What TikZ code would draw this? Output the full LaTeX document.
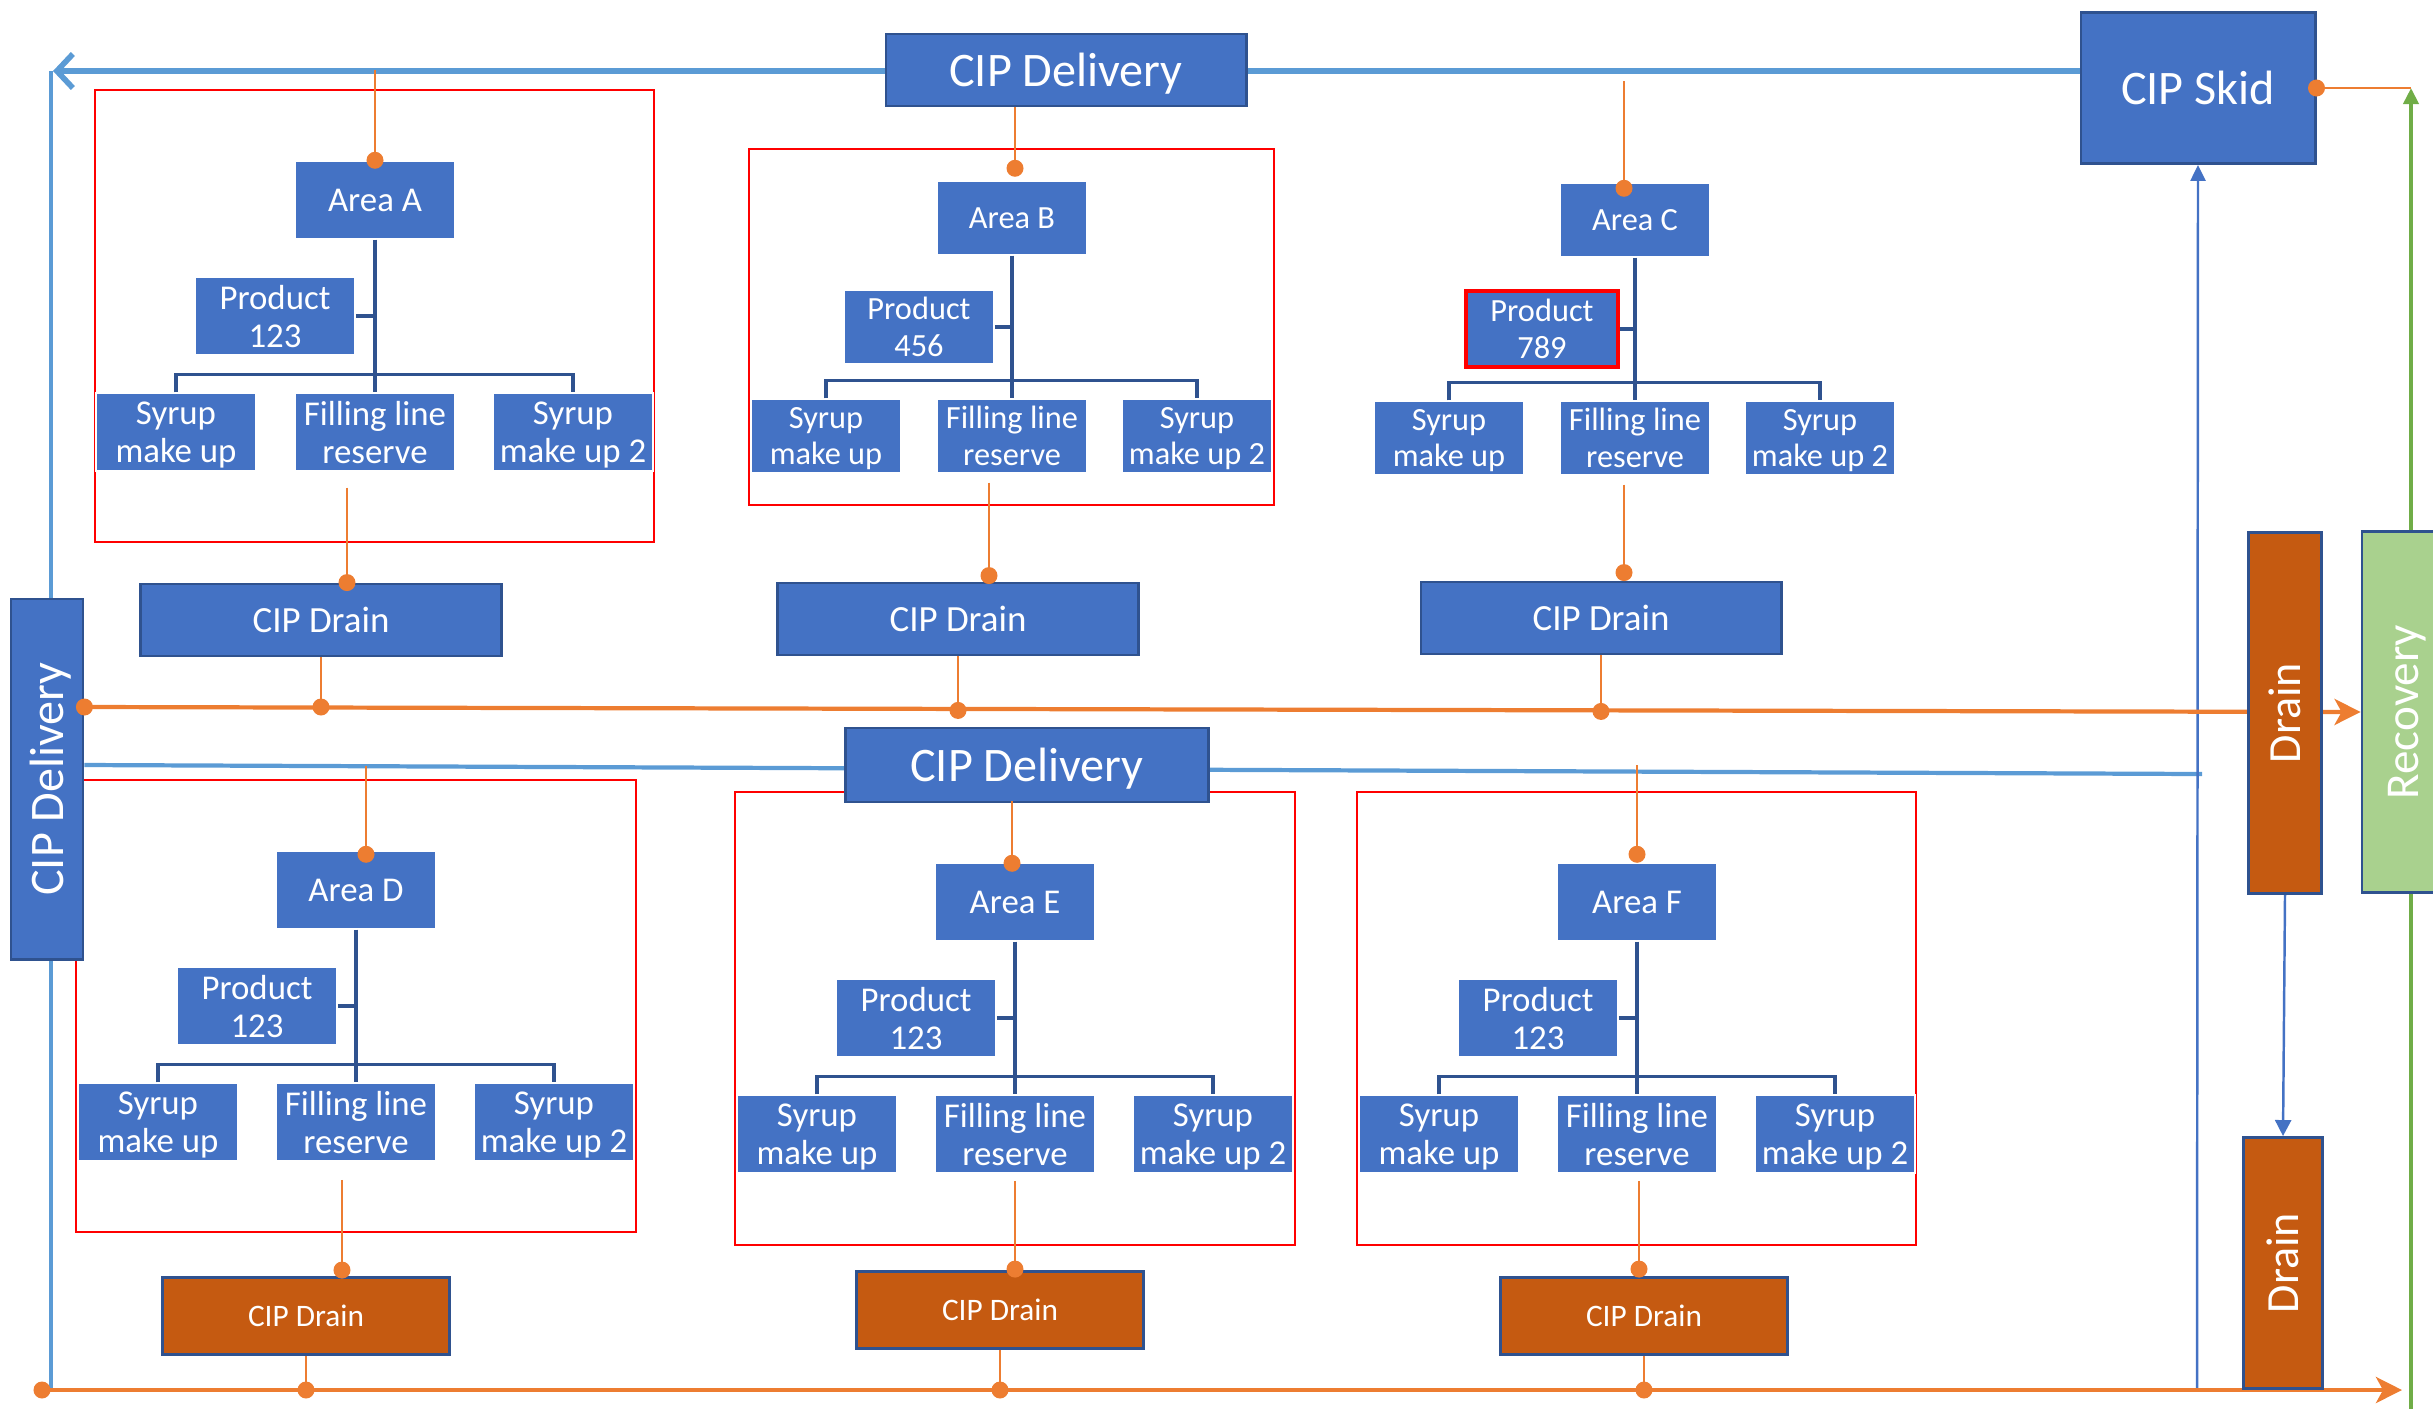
\documentclass[tikz,border=0pt]{standalone}
\usepackage{fontspec}
\setmainfont{Carlito}
\usetikzlibrary{arrows.meta,calc}
\pgfdeclarelayer{bg}
\pgfsetlayers{bg,main}
\definecolor{bx}{HTML}{4472C4}
\definecolor{bxd}{HTML}{2F528F}
\definecolor{orl}{HTML}{ED7D31}
\definecolor{lbl}{HTML}{5B9BD5}
\definecolor{drn}{HTML}{C55A11}
\definecolor{grl}{HTML}{70AD47}
\definecolor{grf}{HTML}{A9D18E}
\newcommand\mytree[5]{%
  \draw[tline] (#1.south) -- (#4.north);
  \draw[tline] (#3.north) -- ++(0,-18) -| (#5.north);
  \draw[tline] (#2.east) -- (#2.east -| #1.south);
}
\begin{document}
\begin{tikzpicture}[x=0.01cm,y=-0.01cm,
  sb/.style={fill=bx, draw=white, line width=0.4pt, text=white, align=center, inner sep=0pt,
    text depth=0pt, minimum width=1.6cm, minimum height=0.78cm, font=\fontsize{9.9}{10.8}\selectfont},
  sbs/.style={sb, minimum width=1.5cm, minimum height=0.74cm, font=\fontsize{9.2}{10.4}\selectfont},
  big/.style={fill=bx, draw=bxd, line width=0.8pt, text=white, align=center, inner sep=0pt,
    text depth=0pt, font=\fontsize{13.7}{16}\selectfont},
  cipdr/.style={big, minimum width=3.61cm, minimum height=0.72cm, font=\fontsize{10.5}{12}\selectfont},
  cipdro/.style={big, fill=drn, minimum width=2.87cm, minimum height=0.77cm, font=\fontsize{8.9}{10}\selectfont},
  rbox/.style={draw=red, line width=0.6pt},
  tline/.style={draw=bxd, line width=0.9pt},
  oline/.style={draw=orl, line width=0.8pt},
  omain/.style={draw=orl, line width=1.2pt},
  odot/.style={circle, fill=orl, inner sep=0pt, minimum size=0.17cm},
  blue1/.style={draw=lbl, line width=1.7pt},
  blue2/.style={draw=lbl, line width=1.2pt},
  blue3/.style={draw=bx, line width=0.7pt}
]
\useasboundingbox (0,0) rectangle (2433,1408);

% red group frames
\draw[rbox] (95,90) rectangle (654,542);
\draw[rbox] (749,149) rectangle (1274,505);
\draw[rbox] (76,780) rectangle (636,1232);
\draw[rbox] (735,792) rectangle (1295,1245);
\draw[rbox] (1357,792) rectangle (1916,1245);

% main boxes
\node[big, minimum width=3.6cm, minimum height=0.72cm] (dtop) at (1066,70) {CIP Delivery};
\node[big, minimum width=2.34cm, minimum height=1.51cm] (skid) at (2198,88) {CIP Skid};
\node[big, minimum width=3.62cm, minimum height=0.74cm] (dmid) at (1027,765) {CIP Delivery};
\node[big, rotate=90, minimum width=3.6cm, minimum height=0.72cm] (dleft) at (47,779) {CIP Delivery};
\node[big, fill=drn, rotate=90, minimum width=3.61cm, minimum height=0.73cm, font=\fontsize{13.1}{15}\selectfont] (drain1) at (2285,713) {Drain};
\node[big, fill=grf, rotate=90, minimum width=3.61cm, minimum height=0.82cm, font=\fontsize{13.4}{15}\selectfont] (recov) at (2403,712) {Recovery};
\node[big, fill=drn, rotate=90, minimum width=2.51cm, minimum height=0.79cm, font=\fontsize{13.1}{15}\selectfont] (drain2) at (2283,1263) {Drain};

% Area A
\node[sb] (aA) at (375,200) {Area A};
\node[sb] (pA) at (275,316) {Product\\123};
\node[sb] (sA1) at (176,432) {Syrup\\make up};
\node[sb] (fA) at (375,432) {Filling line\\reserve};
\node[sb] (sA2) at (573,432) {Syrup\\make up 2};
\node[cipdr] (drA) at (321,620) {CIP Drain};
% Area B
\node[sbs] (aB) at (1012,218) {Area B};
\node[sbs] (pB) at (919,327) {Product\\456};
\node[sbs] (sB1) at (826,436) {Syrup\\make up};
\node[sbs] (fB) at (1012,436) {Filling line\\reserve};
\node[sbs] (sB2) at (1197,436) {Syrup\\make up 2};
\node[cipdr] (drB) at (958,619) {CIP Drain};
% Area C
\node[sbs] (aC) at (1635,220) {Area C};
\node[sbs, draw=red, line width=1.2pt, minimum width=1.52cm, minimum height=0.76cm] (pC) at (1542,329) {Product\\789};
\node[sbs] (sC1) at (1449,438) {Syrup\\make up};
\node[sbs] (fC) at (1635,438) {Filling line\\reserve};
\node[sbs] (sC2) at (1820,438) {Syrup\\make up 2};
\node[cipdr, minimum width=3.6cm] (drC) at (1601,618) {CIP Drain};
% Area D
\node[sb] (aD) at (356,890) {Area D};
\node[sb] (pD) at (257,1006) {Product\\123};
\node[sb] (sD1) at (158,1122) {Syrup\\make up};
\node[sb] (fD) at (356,1122) {Filling line\\reserve};
\node[sb] (sD2) at (554,1122) {Syrup\\make up 2};
\node[cipdro] (drD) at (306,1316) {CIP Drain};
% Area E
\node[sb] (aE) at (1015,902) {Area E};
\node[sb] (pE) at (916,1018) {Product\\123};
\node[sb] (sE1) at (817,1134) {Syrup\\make up};
\node[sb] (fE) at (1015,1134) {Filling line\\reserve};
\node[sb] (sE2) at (1213,1134) {Syrup\\make up 2};
\node[cipdro] (drE) at (1000,1310) {CIP Drain};
% Area F
\node[sb] (aF) at (1637,902) {Area F};
\node[sb] (pF) at (1538,1018) {Product\\123};
\node[sb] (sF1) at (1439,1134) {Syrup\\make up};
\node[sb] (fF) at (1637,1134) {Filling line\\reserve};
\node[sb] (sF2) at (1835,1134) {Syrup\\make up 2};
\node[cipdro] (drF) at (1644,1316) {CIP Drain};

% trees
\mytree{aA}{pA}{sA1}{fA}{sA2}
\mytree{aB}{pB}{sB1}{fB}{sB2}
\mytree{aC}{pC}{sC1}{fC}{sC2}
\mytree{aD}{pD}{sD1}{fD}{sD2}
\mytree{aE}{pE}{sE1}{fE}{sE2}
\mytree{aF}{pF}{sF1}{fF}{sF2}

% free ends
\coordinate (tlcorner) at (53,71);
\coordinate (lbot) at (51,1390);
\coordinate (ltop) at (51,71);
\coordinate (mbend) at (2202,774);
\coordinate (skbot) at (2197,1390);
\coordinate (botstart) at (42,1390);
\coordinate (botend) at (2402,1390);
\coordinate (grbot) at (2411,1420);
\coordinate (grtop) at (2411,88);
\coordinate (topC) at (1624,81);
\coordinate (mstart) at ($(dleft.south)+(0,-72)$);

\begin{pgfonlayer}{bg}
  % blue delivery lines
  \draw[blue1, -{Straight Barb[length=0.16cm,width=0.34cm,line width=1.6pt]}] ($(skid.west)+(0,-17)$) -- (tlcorner);
  \draw[blue2, line width=1pt] (ltop) -- (lbot);
  \draw[blue2] ($(dleft.south)+(0,-14)$) -- (mbend);
  % skid return
  \draw[blue3, -{Triangle[length=0.16cm,width=0.15cm]}] (skbot) -- (skid.south);
  \draw[blue3, -{Triangle[length=0.16cm,width=0.16cm]}] (drain1.west) -- (drain2.east);
  % green recovery
  \draw[draw=grl, line width=1.1pt, -{Triangle[length=0.16cm,width=0.15cm]}] (grbot) -- (grtop);
  % middle and bottom orange mains
  \draw[omain, -{Stealth[length=0.26cm,width=0.26cm,inset=0.07cm]}] (mstart) -- (recov.north);
  \draw[omain, -{Stealth[length=0.26cm,width=0.26cm,inset=0.07cm]}] (botstart) -- (botend);
\end{pgfonlayer}

% orange connectors
\draw[oline] (skid.east) -- (grtop);
\node[odot] at (skid.east) {};
\node[odot] at (mstart) {};
\node[odot] at (botstart) {};
% A
\draw[oline] (aA.north |- dtop) -- (aA.north); \node[odot] at (aA.north) {};
\draw[oline] ($(fA.south)+(-28,16)$) -- ($(drA.north)+(26,0)$); \node[odot] at ($(drA.north)+(26,0)$) {};
\draw[oline] (drA.south) -- (drA.south |- mstart) node[odot]{};
% B
\draw[oline] ($(aB.north |- dtop.south)+(3,0)$) -- ($(aB.north)+(3,-12)$); \node[odot] at ($(aB.north)+(3,-12)$) {};
\draw[oline] ($(fB.south)+(-23,9)$) -- ($(drB.north)+(31,-6)$); \node[odot] at ($(drB.north)+(31,-6)$) {};
\draw[oline] (drB.south) -- ++(0,54) node[odot]{};
% C
\draw[oline] (topC) -- ($(aC.north)+(-11,6)$); \node[odot] at ($(aC.north)+(-11,6)$) {};
\draw[oline] ($(fC.south)+(-11,9)$) -- ($(drC.north)+(23,-8)$); \node[odot] at ($(drC.north)+(23,-8)$) {};
\draw[oline] (drC.south) -- ++(0,56) node[odot]{};
% D
\draw[oline] ($(aD.north)+(10,-84)$) -- ($(aD.north)+(10,4)$); \node[odot] at ($(aD.north)+(10,4)$) {};
\draw[oline] ($(fD.south)+(-14,18)$) -- ($(drD.north)+(36,-6)$); \node[odot] at ($(drD.north)+(36,-6)$) {};
\draw[oline] (drD.south) -- (drD.south |- botstart) node[odot]{};
% E
\draw[oline] ($(aE.north)+(-3,-61)$) -- ($(aE.north)+(-3,1)$); \node[odot] at ($(aE.north)+(-3,1)$) {};
\draw[oline] ($(fE.south)+(0,7)$) -- ($(drE.north)+(15,-1)$); \node[odot] at ($(drE.north)+(15,-1)$) {};
\draw[oline] (drE.south) -- (drE.south |- botstart) node[odot]{};
% F
\draw[oline] ($(aF.north)+(0,-97)$) -- ($(aF.north)+(0,-8)$); \node[odot] at ($(aF.north)+(0,-8)$) {};
\draw[oline] ($(fF.south)+(2,7)$) -- ($(drF.north)+(-5,-7)$); \node[odot] at ($(drF.north)+(-5,-7)$) {};
\draw[oline] (drF.south) -- (drF.south |- botstart) node[odot]{};
\end{tikzpicture}
\end{document}
